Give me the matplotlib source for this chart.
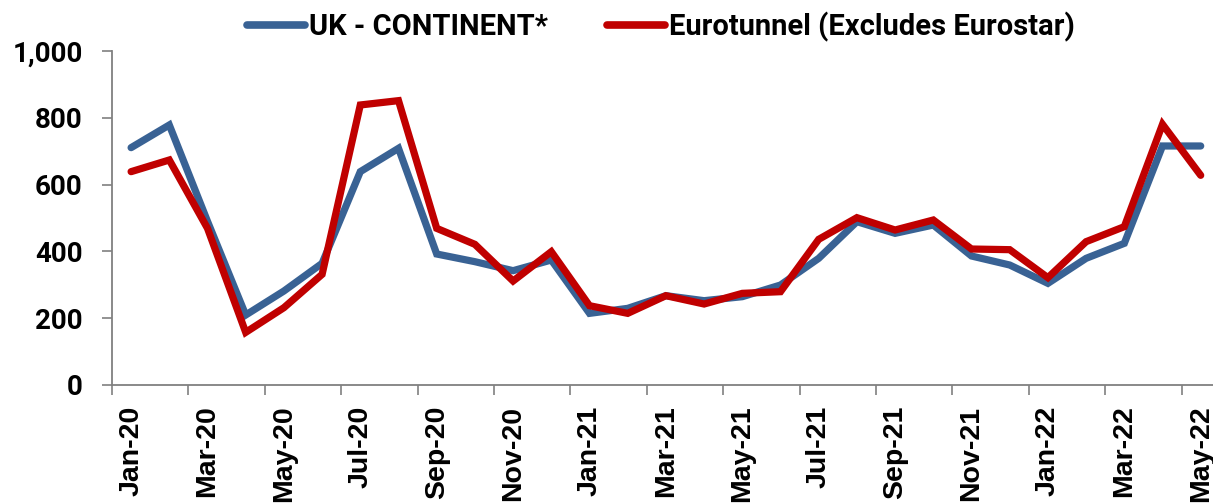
import matplotlib
matplotlib.use("Agg")
import matplotlib.pyplot as plt
from matplotlib.ticker import FixedLocator, FuncFormatter

months = ["Jan-20","Feb-20","Mar-20","Apr-20","May-20","Jun-20","Jul-20","Aug-20","Sep-20","Oct-20","Nov-20","Dec-20",
          "Jan-21","Feb-21","Mar-21","Apr-21","May-21","Jun-21","Jul-21","Aug-21","Sep-21","Oct-21","Nov-21","Dec-21",
          "Jan-22","Feb-22","Mar-22","Apr-22","May-22"]
uk_continent = [711, 779, 490, 209, 281, 364, 639, 709, 392, 369, 342, 374,
                214, 229, 267, 252, 264, 299, 379, 489, 454, 479, 386, 359,
                304, 379, 424, 716, 716]
eurotunnel = [639, 674, 469, 157, 231, 331, 839, 852, 469, 421, 311, 399,
              237, 214, 267, 242, 274, 279, 436, 501, 464, 494, 407, 405,
              321, 429, 474, 781, 628]
yticks = [0, 200, 400, 600, 800, 1000]

fig = plt.figure(figsize=(12.13, 5.04), dpi=100)
ax = fig.add_axes([112/1213, 119.3/504, 29*38.2/1213, 333.4/504])

x = list(range(len(months)))
l1, = ax.plot(x, uk_continent, color="#396294", lw=5.2, solid_joinstyle="miter",
              solid_capstyle="round", label="UK - CONTINENT*")
l2, = ax.plot(x, eurotunnel, color="#C00000", lw=5.2, solid_joinstyle="miter",
              solid_capstyle="round", label="Eurotunnel (Excludes Eurostar)")

ax.set_xlim(-0.5, len(months) - 0.5)
ax.set_ylim(0, 1000)
for s in ["top", "right"]:
    ax.spines[s].set_visible(False)
for s in ["left", "bottom"]:
    ax.spines[s].set_color("#808080")
    ax.spines[s].set_linewidth(1.3)

ax.set_yticks(yticks)
ax.yaxis.set_major_formatter(FuncFormatter(lambda v, p: f"{int(v):,}"))
ax.tick_params(axis="y", direction="out", length=7, width=1.2, color="#808080", pad=14)
for t in ax.get_yticklabels():
    t.set_fontfamily("Roboto")
    t.set_fontweight("bold")
    t.set_fontsize(20)

ax.xaxis.set_major_locator(FixedLocator([i - 0.5 for i in range(0, len(months), 2)]))
ax.xaxis.set_major_formatter(FuncFormatter(lambda v, p: ""))
ax.set_xticks(list(range(0, len(months), 2)), [months[i] for i in range(0, len(months), 2)], minor=True)
ax.tick_params(axis="x", which="major", direction="out", length=7, width=1.2, color="#808080")
ax.tick_params(axis="x", which="minor", length=0, pad=15)
for t in ax.get_xticklabels(minor=True):
    t.set_rotation(90)
    t.set_fontfamily("Liberation Sans")
    t.set_fontweight("bold")
    t.set_fontsize(20.5)

leg = fig.legend(handles=[l1, l2], loc="center", bbox_to_anchor=(661/1213, 1 - 27/504), ncol=2, frameon=False,
                 prop={"family": "Roboto", "weight": "bold", "size": 21}, handlelength=2.0, handletextpad=0.15,
                 columnspacing=2.0)
for h in leg.get_lines():
    h.set_linewidth(5.5)
    h.set_solid_capstyle("round")

fig.savefig("out.png", dpi=100)
